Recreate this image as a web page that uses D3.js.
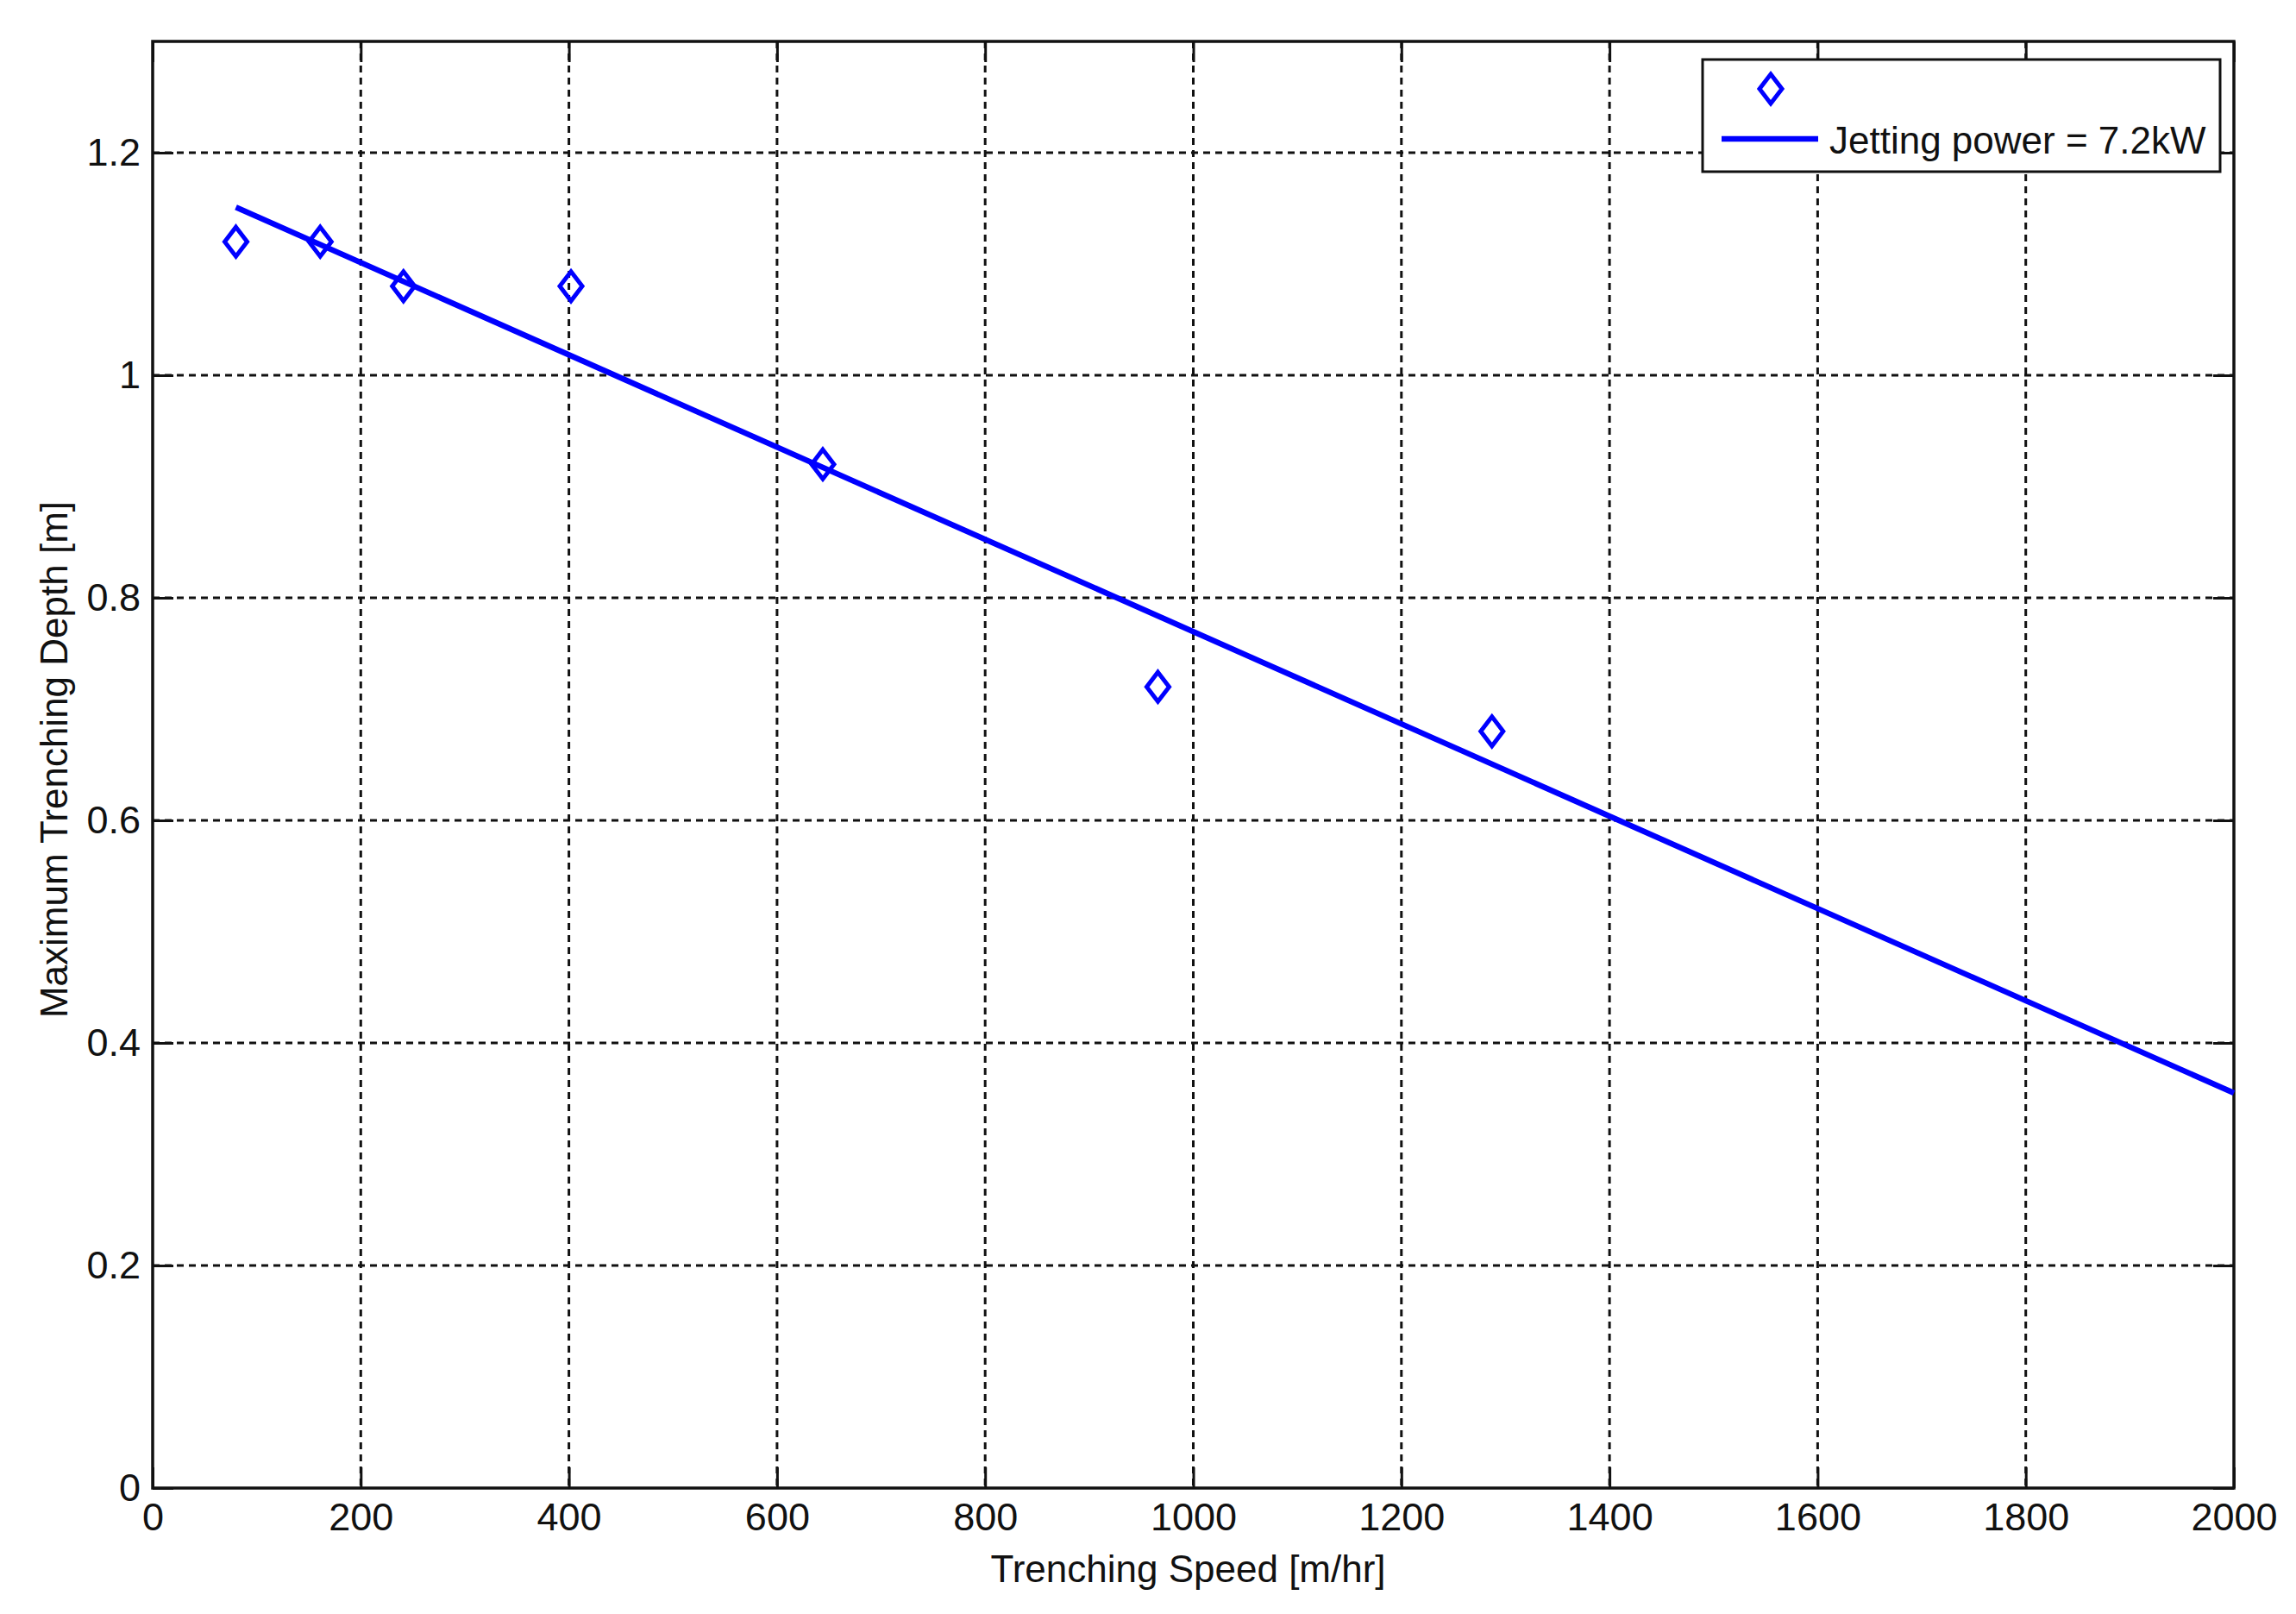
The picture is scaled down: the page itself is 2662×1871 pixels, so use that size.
<!DOCTYPE html>
<html>
<head>
<meta charset="utf-8">
<script src="https://cdn.jsdelivr.net/npm/d3@7"></script>
<style>
  body { margin: 0; background: #fff; }
  text { font-family: "Liberation Sans", Arial, sans-serif; fill: #111; }
</style>
</head>
<body>
<svg id="chart"></svg>
<script>
// measured points (trenching speed m/hr vs max depth m)
var speeds = [80, 161, 241, 402, 644, 966, 1287]
var depths = [1.12, 1.12, 1.08, 1.08, 0.92, 0.72, 0.68]
// fitted line end points
var fitX = [80, 2000]
var fitY = [1.151, 0.355]
var xTicks = [0, 200, 400, 600, 800, 1000, 1200, 1400, 1600, 1800, 2000]
var yTicks = [0, 0.2, 0.4, 0.6, 0.8, 1, 1.2]
var legendLabel = 'Jetting power = 7.2kW'

var width = 2662
var height = 1871
var plotL = 177, plotR = 2590, plotT = 48, plotB = 1725
var blue = '#0000ff'

var svg = d3.select('#chart').attr('width', width).attr('height', height)

var x = d3.scaleLinear().domain([0, 2000]).range([plotL, plotR])
var y = d3.scaleLinear().domain([0, 1.3]).range([plotB, plotT])

// grid lines (dotted)
var grid = svg.append('g')
grid.selectAll('.vg').data(xTicks.slice(1, -1)).enter().append('line')
  .attr('x1', d => x(d)).attr('x2', d => x(d))
  .attr('y1', plotT).attr('y2', plotB)
  .attr('stroke', '#111').attr('stroke-width', 3).attr('stroke-dasharray', '8,6')
grid.selectAll('.hg').data(yTicks.slice(1)).enter().append('line')
  .attr('x1', plotL).attr('x2', plotR)
  .attr('y1', d => y(d)).attr('y2', d => y(d))
  .attr('stroke', '#111').attr('stroke-width', 3).attr('stroke-dasharray', '8,6')

// axes, ticks pointing inward, matlab style
var tickLen = 24
var fmt = d => d3.format('~g')(d)
var xAxis = d3.axisBottom(x).tickValues(xTicks).tickSizeInner(-tickLen).tickSizeOuter(0).tickPadding(14).tickFormat(fmt)
var xAxisTop = d3.axisTop(x).tickValues(xTicks).tickSizeInner(-tickLen).tickSizeOuter(0).tickFormat('')
var yAxis = d3.axisLeft(y).tickValues(yTicks).tickSizeInner(-tickLen).tickSizeOuter(0).tickPadding(14).tickFormat(fmt)
var yAxisRight = d3.axisRight(y).tickValues(yTicks).tickSizeInner(-tickLen).tickSizeOuter(0).tickFormat('')

function styleAxis(g) {
  g.select('.domain').remove()
  g.selectAll('line').attr('stroke', '#111').attr('stroke-width', 3)
  g.selectAll('text').attr('font-size', '45px').attr('fill', '#111')
    .style('font-family', '"Liberation Sans", Arial, sans-serif')
}
svg.append('g').attr('transform', 'translate(0,' + plotB + ')').call(xAxis).call(styleAxis)
  .selectAll('text').attr('dy', null).attr('y', 49)
svg.append('g').attr('transform', 'translate(0,' + plotT + ')').call(xAxisTop).call(styleAxis)
svg.append('g').attr('transform', 'translate(' + plotL + ',0)').call(yAxis).call(styleAxis)
  .selectAll('text').attr('x', -14)
svg.append('g').attr('transform', 'translate(' + plotR + ',0)').call(yAxisRight).call(styleAxis)

// frame
svg.append('rect').attr('x', plotL).attr('y', plotT)
  .attr('width', plotR - plotL).attr('height', plotB - plotT)
  .attr('fill', 'none').attr('stroke', '#111').attr('stroke-width', 3.5)

// fit line
var line = d3.line().x(d => x(d[0])).y(d => y(d[1]))
svg.append('path').datum(d3.zip(fitX, fitY))
  .attr('d', line).attr('fill', 'none').attr('stroke', blue).attr('stroke-width', 6.5)

// diamond markers
function diamond(cx, cy) {
  var w = 13, h = 17
  return 'M' + cx + ',' + (cy - h) + 'L' + (cx + w) + ',' + cy + 'L' + cx + ',' + (cy + h) + 'L' + (cx - w) + ',' + cy + 'Z'
}
svg.selectAll('.pt').data(d3.zip(speeds, depths)).enter().append('path')
  .attr('d', d => diamond(x(d[0]), y(d[1])))
  .attr('fill', 'none').attr('stroke', blue).attr('stroke-width', 5)

// axis titles
svg.append('text').attr('x', (plotL + plotR) / 2 - 6).attr('y', 1834)
  .attr('text-anchor', 'middle').attr('font-size', '44px').text('Trenching Speed [m/hr]')
svg.append('text').attr('transform', 'translate(78,' + ((plotT + plotB) / 2 - 6) + ') rotate(-90)')
  .attr('text-anchor', 'middle').attr('font-size', '44px').text('Maximum Trenching Depth [m]')

// legend
var lg = svg.append('g')
lg.append('rect').attr('x', 1974).attr('y', 69).attr('width', 600).attr('height', 130)
  .attr('fill', '#fff').attr('stroke', '#111').attr('stroke-width', 3)
lg.append('path').attr('d', diamond(2053, 103))
  .attr('fill', 'none').attr('stroke', blue).attr('stroke-width', 5)
lg.append('line').attr('x1', 1996).attr('x2', 2108).attr('y1', 161).attr('y2', 161)
  .attr('stroke', blue).attr('stroke-width', 6.5)
lg.append('text').attr('x', 2121).attr('y', 178).attr('font-size', '44px').text(legendLabel)
</script>
</body>
</html>
